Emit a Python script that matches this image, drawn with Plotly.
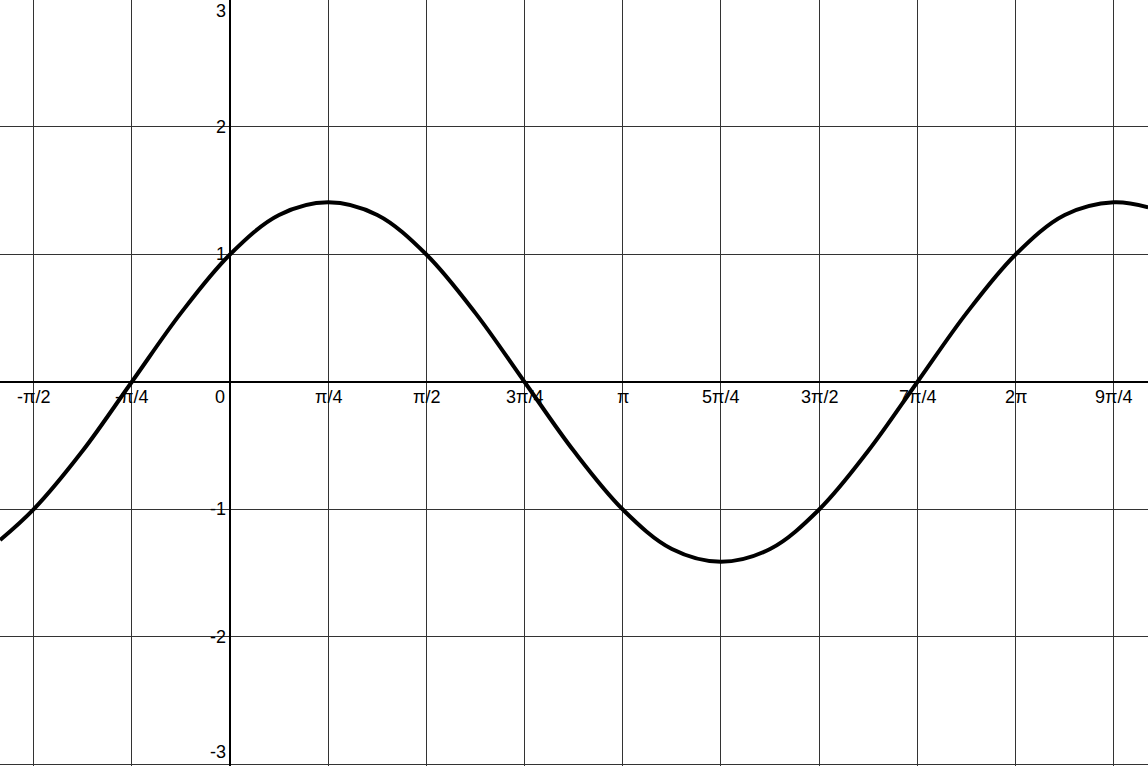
import numpy as np
import plotly.graph_objects as go

# curve samples, x in steps of pi/8
k_steps = [-4.68, -4, -3, -2, -1, 0, 1, 2, 3, 4, 5, 6, 7, 8, 9, 10,
           11, 12, 13, 14, 15, 16, 17, 18, 18.7]
y_vals = [-1.24, -1.0, -0.54, 0.0, 0.54, 1.0, 1.31, 1.41, 1.31, 1.0, 0.54, 0.0,
          -0.54, -1.0, -1.31, -1.41, -1.31, -1.0, -0.54, 0.0, 0.54, 1.0, 1.31,
          1.41, 1.37]

# tick labels, x in steps of pi/4
x_tick_k = [-2, -1, 0, 1, 2, 3, 4, 5, 6, 7, 8, 9]
x_tick_text = ["-π/2", "-π/4", "0", "π/4", "π/2", "3π/4", "π", "5π/4",
               "3π/2", "7π/4", "2π", "9π/4"]
y_ticks = [-3, -2, -1, 1, 2, 3]

x_vals = [k * np.pi / 8 for k in k_steps]
x_tick_vals = [k * np.pi / 4 for k in x_tick_k]

fig = go.Figure()
fig.add_trace(go.Scatter(
    x=x_vals, y=y_vals, mode="lines",
    line=dict(color="black", width=4, shape="spline", smoothing=1.0),
    hoverinfo="skip"
))

font = dict(family="Liberation Sans, Arial, sans-serif", size=18, color="black")

# x labels below the axis
for xv, txt in zip(x_tick_vals, x_tick_text):
    if txt == "0":
        fig.add_annotation(x=xv, y=0, text=txt, showarrow=False, font=font,
                           xanchor="right", yanchor="middle", xshift=-3, yshift=-15)
    else:
        fig.add_annotation(x=xv, y=0, text=txt, showarrow=False, font=font,
                           xanchor="center", yanchor="middle", yshift=-15)

# y labels left of the axis (edge labels pulled inside the plot)
for yv in y_ticks:
    ypos = yv
    shift = 0
    if yv == 3:
        ypos = 2.99
        shift = -10
    elif yv == -3:
        ypos = -3.0
        shift = 12
    fig.add_annotation(x=0, y=ypos, text=str(yv), showarrow=False, font=font,
                       xanchor="right", yanchor="middle", xshift=-2, yshift=shift)

fig.update_layout(
    width=1148, height=766,
    margin=dict(l=0, r=0, t=0, b=0),
    paper_bgcolor="white", plot_bgcolor="white",
    showlegend=False,
    xaxis=dict(range=[-1.839, 7.342], tickvals=x_tick_vals, showticklabels=False,
               showgrid=True, gridcolor="#333", gridwidth=1,
               zeroline=True, zerolinecolor="black", zerolinewidth=2,
               showline=False, fixedrange=True),
    yaxis=dict(range=[-3.012, 2.996], tickvals=[-3, -2, -1, 0, 1, 2, 3],
               showticklabels=False,
               showgrid=True, gridcolor="#333", gridwidth=1,
               zeroline=True, zerolinecolor="black", zerolinewidth=2,
               showline=False, fixedrange=True),
)

fig.write_html("out.html", config={"displayModeBar": False},
               post_script="document.body.style.margin='0';")
